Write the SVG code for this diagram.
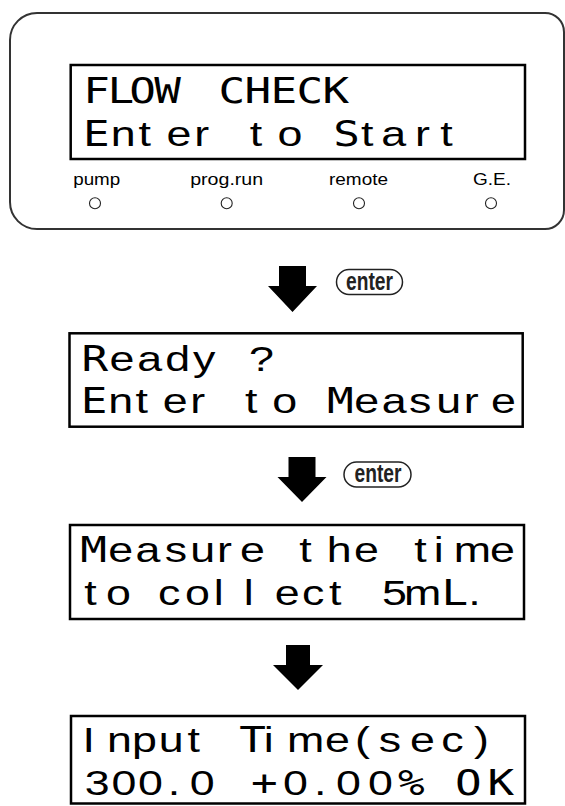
<svg xmlns="http://www.w3.org/2000/svg" width="565" height="806" viewBox="0 0 565 806">
<style>
.lcd{font-family:"Liberation Sans",Arial,sans-serif;font-size:35px;fill:#000}
.n{font-family:"Liberation Sans Narrow","DejaVu Sans Mono",monospace;font-size:34.6px}
.box{fill:none;stroke:#000;stroke-width:2.5}
.panel{fill:none;stroke:#333;stroke-width:2}
.lbl{font-family:"Liberation Sans",Arial,sans-serif;font-size:16.5px;fill:#000;text-anchor:middle}
.led{fill:none;stroke:#222;stroke-width:1.1}
.btn{fill:none;stroke:#222;stroke-width:1.5}
.btxt{font-family:"Liberation Sans",Arial,sans-serif;font-weight:bold;font-size:25px;fill:#222;text-anchor:middle}
.arrow{fill:#000}
</style>
<rect width="565" height="806" fill="#fff"/>
<g id="panel">
<path class="panel" d="M37,13 H545 A19,19 0 0 1 564,32 V210 A19,19 0 0 1 545,229 H37 A27,27 0 0 1 10,202 V40 A27,27 0 0 1 37,13 Z"/>
<rect class="box" x="70.7" y="65" width="454.3" height="94"/>
<text class="lcd" transform="scale(1.28,1)" x="65.0 84.0 100.9 120.5 144.5 170.7 191.0 211.3 231.6 251.95" y="103"><tspan class="n">FLOW CHECK</tspan></text>
<text class="lcd" transform="scale(1.28,1)" x="64.84 86.56 108.28 130.0 151.72 173.44 195.16 216.88 238.59 260.31 282.03 297.81 324.22 343.91" y="146"><tspan class="n">E</tspan>nter to <tspan class="n">S</tspan>tart</text>
<text class="lbl" x="96.7" y="185" textLength="47" lengthAdjust="spacingAndGlyphs">pump</text>
<text class="lbl" x="226.7" y="185" textLength="73" lengthAdjust="spacingAndGlyphs">prog.run</text>
<text class="lbl" x="358.5" y="185" textLength="59" lengthAdjust="spacingAndGlyphs">remote</text>
<text class="lbl" x="492" y="185" textLength="38" lengthAdjust="spacingAndGlyphs">G.E.</text>
<circle class="led" cx="95" cy="203.3" r="5.5"/>
<circle class="led" cx="226.7" cy="203.3" r="5.5"/>
<circle class="led" cx="359" cy="203.3" r="5.5"/>
<circle class="led" cx="491" cy="203.3" r="5.5"/>
</g>
<g id="connectors">
<polygon class="arrow" points="279,266 306,266 306,286 317,286 292.5,312 268,286 279,286"/>
<polygon class="arrow" points="288.5,457 315.5,457 315.5,477 326.5,477 302,502 277.5,477 288.5,477"/>
<polygon class="arrow" points="286,645 310,645 310,665 323,665 298,690 273,665 286,665"/>
</g>
<g id="enter1">
<rect class="btn" x="336.5" y="269.5" width="66" height="25" rx="12.5"/>
<text class="btxt" x="369.5" y="290" textLength="47" lengthAdjust="spacingAndGlyphs">enter</text>
</g>
<g id="enter2">
<rect class="btn" x="344" y="462" width="67" height="25" rx="12.5"/>
<text class="btxt" x="378" y="482" textLength="47" lengthAdjust="spacingAndGlyphs">enter</text>
</g>
<g id="screen2">
<rect class="box" x="69.5" y="333.3" width="453.2" height="93.4"/>
<text class="lcd" transform="scale(1.28,1)" x="63.67 85.47 107.27 129.06 150.86 172.66 194.45" y="371"><tspan class="n">R</tspan>eady ?</text>
<text class="lcd" transform="scale(1.28,1)" x="63.13 84.49 105.86 127.23 148.59 169.96 191.33 212.70 234.06 255.43 276.80 298.16 319.53 340.90 362.26 383.63" y="413"><tspan class="n">E</tspan>nter to <tspan class="n">M</tspan>easure</text>
</g>
<g id="screen3">
<rect class="box" x="70" y="525" width="454" height="94"/>
<text class="lcd" transform="scale(1.28,1)" x="62.66 84.53 105.86 128.67 148.67 169.53 187.42 212.42 233.83 255.23 276.64 298.05 323.59 338.83 354.45 382.73" y="562"><tspan class="n">M</tspan>easure the time</text>
<text class="lcd" transform="scale(1.28,1)" x="65.78 82.81 105.47 123.44 144.53 166.95 190.39 214.61 235.86 257.11 278.13 298.52 315.63 344.92 365.78" y="605">to collect 5m<tspan class="n">L</tspan>.</text>
</g>
<g id="screen4">
<rect class="box" x="71" y="716" width="454" height="87.5"/>
<text class="lcd" transform="scale(1.28,1)" x="64.45 83.59 103.13 123.98 146.48 167.97 186.88 206.02 224.22 253.83 277.34 295.86 320.23 344.69 370.31" y="752">Input <tspan class="n">T</tspan>ime(sec)</text>
<text class="lcd" transform="scale(1.28,1)" x="66.25 87.03 107.89 131.02 148.28 173.44 196.09 221.17 245.31 262.58 287.58 310.94 335.94 355.47 380.86" y="795">300.0 <tspan class="n">+</tspan>0.00<tspan class="n">% OK</tspan></text>
</g>
</svg>
